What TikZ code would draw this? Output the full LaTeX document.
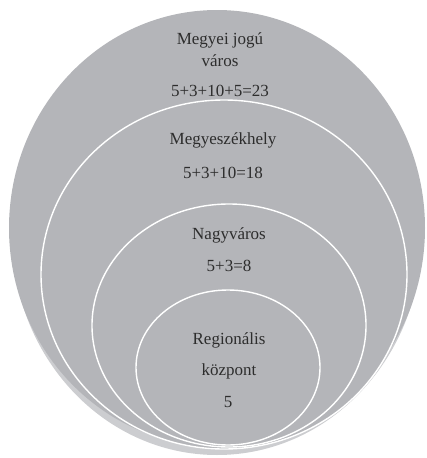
\documentclass[tikz,border=0pt]{standalone}
\usepackage{fontspec}
\setmainfont{Liberation Serif}
\usetikzlibrary{shapes.geometric}
\definecolor{ringgray}{RGB}{180,181,185}
\definecolor{shadegray}{RGB}{204,205,208}
\definecolor{textgray}{RGB}{45,45,45}
\tikzset{
x=1pt, y=-1pt, % picture is laid out in pixel-like units, top left origin
ring/.style={ellipse, draw=white, line width=1.4pt, fill=ringgray, inner sep=0pt}, % one level of the hierarchy
lvltext/.style={text=textgray, font=\fontsize{17}{20}\selectfont, inner sep=0pt}, % the texts inside the rings
}

\begin{document}
\begin{tikzpicture}
        \useasboundingbox (0,0) rectangle (426,458);
        % soft reflection under the outer ring
        \node[ring, draw=none, fill=shadegray, minimum width=410pt, minimum height=440pt] (shade) at (217,235) {};
        \node[ring, draw=none, minimum width=416pt, minimum height=436pt] (megyei) at (217,228) {};
        \node[ring, minimum width=366pt, minimum height=349pt] (szekhely) at (224,274.5) {};
        \node[ring, minimum width=274pt, minimum height=243pt] (nagy) at (229,325.5) {};
        \node[ring, minimum width=184pt, minimum height=155pt] (regio) at (228,367.5) {};

        \node[lvltext] (t1a) at (220,40) {Megyei jogú};
        \node[lvltext] (t1b) at (220,61) {város};
        \node[lvltext] (n1) at (220,91) {5+3+10+5=23};
        \node[lvltext] (t2) at (223,140) {Megyeszékhely};
        \node[lvltext] (n2) at (223,173) {5+3+10=18};
        \node[lvltext] (t3) at (229,235) {Nagyváros};
        \node[lvltext] (n3) at (229,266) {5+3=8};
        \node[lvltext] (t4a) at (229,340) {Regionális};
        \node[lvltext] (t4b) at (229,371) {központ};
        \node[lvltext] (n4) at (228,402) {5};
    \end{tikzpicture}
\end{document}
